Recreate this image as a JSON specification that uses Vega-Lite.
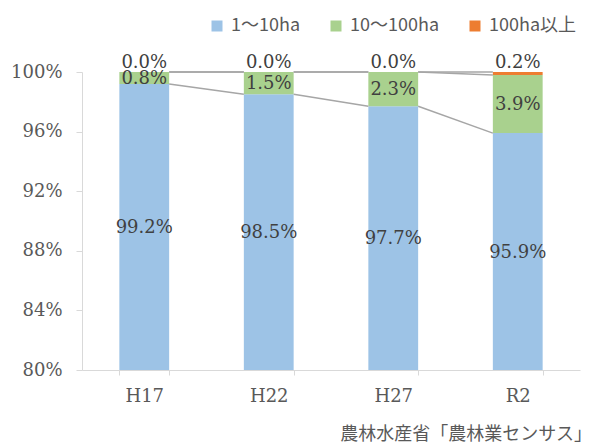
{
  "$schema": "https://vega.github.io/schema/vega-lite/v6.json",
  "width": 498,
  "height": 298,
  "autosize": {"type": "none"},
  "padding": {"left": 82, "top": 72, "right": 9, "bottom": 73},
  "config": {"view": {"stroke": null}, "font": "DejaVu Serif"},
  "title": {
    "text": "農林水産省「農林業センサス」",
    "orient": "bottom",
    "anchor": "end",
    "font": "Noto Sans CJK JP",
    "fontSize": 18,
    "fontWeight": "normal",
    "color": "#595959",
    "dx": 12,
    "offset": 21
  },
  "data": {
    "values": [
      {"year": "H17", "size": "1～10ha", "pct": 0.992},
      {"year": "H17", "size": "10～100ha", "pct": 0.008},
      {"year": "H17", "size": "100ha以上", "pct": 0.0},
      {"year": "H22", "size": "1～10ha", "pct": 0.985},
      {"year": "H22", "size": "10～100ha", "pct": 0.015},
      {"year": "H22", "size": "100ha以上", "pct": 0.0},
      {"year": "H27", "size": "1～10ha", "pct": 0.977},
      {"year": "H27", "size": "10～100ha", "pct": 0.023},
      {"year": "H27", "size": "100ha以上", "pct": 0.0},
      {"year": "R2", "size": "1～10ha", "pct": 0.959},
      {"year": "R2", "size": "10～100ha", "pct": 0.039},
      {"year": "R2", "size": "100ha以上", "pct": 0.002}
    ]
  },
  "transform": [
    {"stack": "pct", "groupby": ["year"], "sort": [{"field": "size", "order": "descending"}], "as": ["pct_start", "pct_end"]}
  ],
  "layer": [
    {
      "mark": {"type": "bar", "clip": true},
      "encoding": {
        "x": {
          "field": "year", "type": "nominal",
          "scale": {"paddingInner": 0.6, "paddingOuter": 0.3},
          "axis": {
            "title": null, "labelAngle": 0, "tickBand": "extent", "tickSize": 5,
            "tickColor": "#D9D9D9", "domainColor": "#D9D9D9", "labelFontSize": 18,
            "labelColor": "#595959", "labelFont": "DejaVu Serif", "labelPadding": 12, "grid": false
          }
        },
        "y": {
          "field": "pct_start", "type": "quantitative",
          "scale": {"domain": [0.8, 1], "nice": false, "zero": false},
          "axis": {
            "title": null, "values": [0.8, 0.84, 0.88, 0.92, 0.96, 1.0], "format": ".0%",
            "tickSize": 6, "tickColor": "#D9D9D9", "domainColor": "#D9D9D9",
            "labelPadding": 14, "labelFontSize": 18, "labelColor": "#595959",
            "labelFont": "DejaVu Serif", "grid": false
          }
        },
        "y2": {"field": "pct_end"},
        "color": {
          "field": "size", "type": "nominal",
          "scale": {"domain": ["1～10ha", "10～100ha", "100ha以上"], "range": ["#9DC3E6", "#A9D18E", "#ED7D31"]},
          "legend": {
            "title": null, "orient": "none", "legendX": 126, "legendY": -55,
            "direction": "horizontal", "symbolType": "square", "symbolSize": 121,
            "symbolStrokeWidth": 0, "labelFont": "Noto Sans CJK JP", "labelFontSize": 18,
            "labelColor": "#595959", "columnPadding": 26, "labelOffset": 5, "padding": 0
          }
        }
      }
    },
    {
      "transform": [
        {"window": [{"op": "lead", "field": "pct_end", "as": "next_end"}, {"op": "lead", "field": "year", "as": "next_year"}], "groupby": ["size"], "sort": [{"field": "year", "order": "ascending"}]},
        {"filter": "datum.next_year != null"}
      ],
      "mark": {"type": "rule", "color": "#A6A6A6", "strokeWidth": 1.5},
      "encoding": {
        "x": {"field": "year", "type": "nominal", "bandPosition": 1},
        "x2": {"field": "next_year", "bandPosition": 0},
        "y": {"field": "pct_end", "type": "quantitative"},
        "y2": {"field": "next_end"}
      }
    },
    {
      "transform": [
        {"filter": "datum.size != '100ha以上'"},
        {"calculate": "(max(datum.pct_start, 0.8) + datum.pct_end) / 2", "as": "mid"}
      ],
      "mark": {"type": "text", "font": "DejaVu Serif", "fontSize": 18, "color": "#404040", "baseline": "middle", "dy": 1},
      "encoding": {
        "x": {"field": "year", "type": "nominal"},
        "y": {"field": "mid", "type": "quantitative"},
        "text": {"field": "pct", "type": "quantitative", "format": ".1%"}
      }
    },
    {
      "transform": [{"filter": "datum.size == '100ha以上'"}],
      "mark": {"type": "text", "font": "DejaVu Serif", "fontSize": 18, "color": "#404040", "baseline": "alphabetic", "dy": -4},
      "encoding": {
        "x": {"field": "year", "type": "nominal"},
        "y": {"field": "pct_end", "type": "quantitative"},
        "text": {"field": "pct", "type": "quantitative", "format": ".1%"}
      }
    }
  ]
}
